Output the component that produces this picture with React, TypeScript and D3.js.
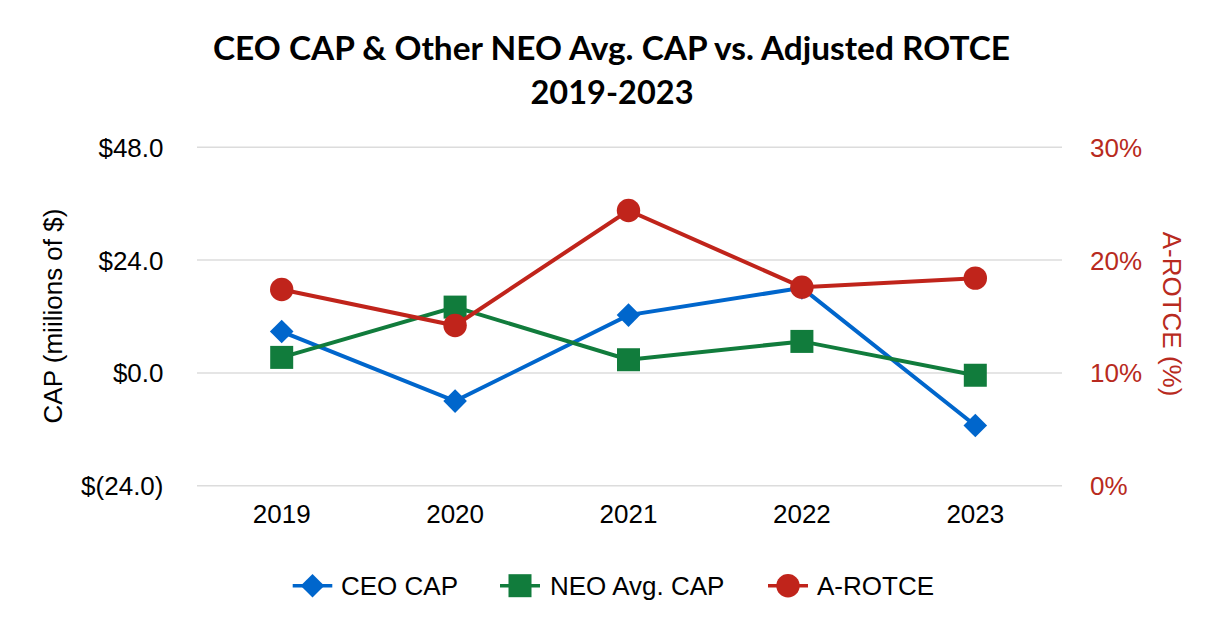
import React from 'react'
import { scalePoint, scaleLinear, line } from 'd3'

const years = ['2019', '2020', '2021', '2022', '2023']
const ceoCap = [8.8, -6.0, 12.3, 18.1, -11.2]
const neoCap = [3.3, 14.0, 2.8, 6.7, -0.5]
const rotce = [0.174, 0.142, 0.244, 0.176, 0.184]
const leftTicks = [-24, 0, 24, 48]
const rightTicks = [0, 0.1, 0.2, 0.3]

const W = 1226
const H = 640
const PLOT = { left: 195, right: 1062, top: 147.3, bottom: 485.7 }

const BLUE = '#0066CC'
const GREEN = '#117C3C'
const RED = '#C0241B'
const RED_TEXT = '#B82A20'
const FONT = "'Liberation Sans', Arial, sans-serif"

const fmtMoney = (v: number) => (v < 0 ? `$(${Math.abs(v).toFixed(1)})` : `$${v.toFixed(1)}`)
const fmtPct = (v: number) => `${Math.round(v * 100)}%`

// diamond marker, half-diagonal r
const Diamond: React.FC<{ x: number; y: number; r: number }> = ({ x, y, r }) => (
  <path d={`M0,${-r}L${r},0L0,${r}L${-r},0Z`} transform={`translate(${x},${y})`} fill={BLUE} />
)

export default function App() {
  const x = scalePoint<string>().domain(years).range([PLOT.left, PLOT.right]).padding(0.5)
  const yL = scaleLinear().domain([-24, 48]).range([PLOT.bottom, PLOT.top])
  const yR = scaleLinear().domain([0, 0.3]).range([PLOT.bottom, PLOT.top])

  const ceoLine = line<number>()
    .x((_, i) => x(years[i]) as number)
    .y((d) => yL(d))(ceoCap)
  const neoLine = line<number>()
    .x((_, i) => x(years[i]) as number)
    .y((d) => yL(d))(neoCap)
  const rotceLine = line<number>()
    .x((_, i) => x(years[i]) as number)
    .y((d) => yR(d))(rotce)

  const legendY = 585.7

  return (
    <svg width={W} height={H} style={{ position: 'absolute', left: 0, top: 0, background: '#fff' }} fontFamily={FONT}>
      <rect width={W} height={H} fill="#fff" />
      <g className="title" fontFamily="Lato, 'Open Sans', sans-serif" fontWeight={700} fill="#000" textAnchor="middle">
        <text x={611.5} y={60} fontSize={33} textLength={797} lengthAdjust="spacingAndGlyphs">
          CEO CAP &amp; Other NEO Avg. CAP vs. Adjusted ROTCE
        </text>
        <text x={612} y={104} fontSize={33} textLength={163} lengthAdjust="spacingAndGlyphs">
          2019-2023
        </text>
      </g>

      <g className="grid">
        {leftTicks.map((t) => (
          <line key={t} x1={PLOT.left + 2} x2={PLOT.right} y1={yL(t)} y2={yL(t)} stroke="#DCDCDC" strokeWidth={1.5} />
        ))}
      </g>

      <g className="axis-left" fontSize={26} fill="#000" textAnchor="end">
        {leftTicks.map((t) => (
          <text key={t} x={163.5} y={yL(t) + 9.5}>
            {fmtMoney(t)}
          </text>
        ))}
        <text transform="translate(62,316) rotate(-90)" textAnchor="middle">
          CAP (miilions of $)
        </text>
      </g>

      <g className="axis-right" fontSize={26} fill={RED_TEXT}>
        {rightTicks.map((t) => (
          <text key={t} x={1090} y={yR(t) + 9.5}>
            {fmtPct(t)}
          </text>
        ))}
        <text transform="translate(1163,314) rotate(90)" textAnchor="middle">
          A-ROTCE (%)
        </text>
      </g>

      <g className="axis-x" fontSize={26} fill="#000" textAnchor="middle">
        {years.map((yr) => (
          <text key={yr} x={x(yr)} y={523}>
            {yr}
          </text>
        ))}
      </g>

      <g className="series">
        <path d={ceoLine || ''} fill="none" stroke={BLUE} strokeWidth={4} />
        {ceoCap.map((d, i) => (
          <Diamond key={i} x={x(years[i]) as number} y={yL(d)} r={11.8} />
        ))}
        <path d={neoLine || ''} fill="none" stroke={GREEN} strokeWidth={4} />
        {neoCap.map((d, i) => (
          <rect key={i} x={(x(years[i]) as number) - 11.5} y={yL(d) - 11.5} width={23} height={23} fill={GREEN} />
        ))}
        <path d={rotceLine || ''} fill="none" stroke={RED} strokeWidth={4} />
        {rotce.map((d, i) => (
          <circle key={i} cx={x(years[i]) as number} cy={yR(d)} r={11.7} fill={RED} />
        ))}
      </g>

      <g className="legend" fontSize={26} fill="#000">
        <line x1={292.7} x2={332.3} y1={legendY} y2={legendY} stroke={BLUE} strokeWidth={3.5} />
        <Diamond x={312.5} y={legendY} r={11.8} />
        <text x={341} y={legendY + 9.5}>CEO CAP</text>

        <line x1={500} x2={540} y1={legendY} y2={legendY} stroke={GREEN} strokeWidth={3.5} />
        <rect x={520 - 11.5} y={legendY - 11.5} width={23} height={23} fill={GREEN} />
        <text x={550} y={legendY + 9.5}>NEO Avg. CAP</text>

        <line x1={768} x2={808} y1={legendY} y2={legendY} stroke={RED} strokeWidth={3.5} />
        <circle cx={788} cy={legendY} r={11.7} fill={RED} />
        <text x={817} y={legendY + 9.5}>A-ROTCE</text>
      </g>
    </svg>
  )
}
